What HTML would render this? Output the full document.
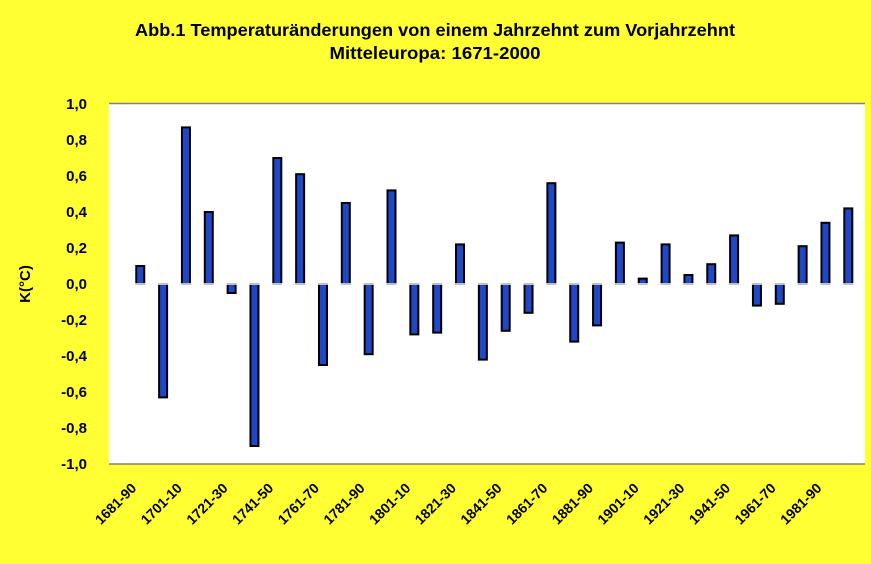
<!DOCTYPE html>
<html><head><meta charset="utf-8"><style>
body{margin:0;background:#ffff33;}
svg{display:block;font-family:"Liberation Sans",Arial,sans-serif;font-weight:bold;}
</style></head><body>
<svg width="871" height="564">
<rect x="0" y="0" width="871" height="564" fill="#ffff33"/>
<text x="435" y="36" text-anchor="middle" font-size="17.5" textLength="600" lengthAdjust="spacingAndGlyphs">Abb.1 Temperaturänderungen von einem Jahrzehnt zum Vorjahrzehnt</text>
<text x="435" y="59" text-anchor="middle" font-size="17.5" textLength="211" lengthAdjust="spacingAndGlyphs">Mitteleuropa:  1671-2000</text>
<rect x="109" y="103" width="756" height="361" fill="#fff"/>
<line x1="109" y1="103.5" x2="865" y2="103.5" stroke="#808080" stroke-width="1.5"/>
<line x1="109" y1="464" x2="865" y2="464" stroke="#808080" stroke-width="1.5"/>
<text transform="translate(30,284) rotate(-90)" text-anchor="middle" font-size="15">K(°C)</text>
<g id="yt"></g><g id="bars"></g><g id="xl"></g>
</svg>
<script>
const categories=["1671-80","1681-90","1691-00","1701-10","1711-20","1721-30","1731-40","1741-50","1751-60","1761-70","1771-80","1781-90","1791-00","1801-10","1811-20","1821-30","1831-40","1841-50","1851-60","1861-70","1871-80","1881-90","1891-00","1901-10","1911-20","1921-30","1931-40","1941-50","1951-60","1961-70","1971-80","1981-90","1991-00"];
const values=[null,0.10,-0.63,0.87,0.40,-0.05,-0.90,0.70,0.61,-0.45,0.45,-0.39,0.52,-0.28,-0.27,0.22,-0.42,-0.26,-0.16,0.56,-0.32,-0.23,0.23,0.03,0.22,0.05,0.11,0.27,-0.12,-0.11,0.21,0.34,0.42];
const yTicks=[1,0.8,0.6,0.4,0.2,0,-0.2,-0.4,-0.6,-0.8,-1];
const NS="http://www.w3.org/2000/svg";
const x0=106,bw=22.84,yT=104,yB=464,ymin=-1,ymax=1;
const y=v=>yB-(v-ymin)/(ymax-ymin)*(yB-yT);
const xc=i=>x0+(i+0.5)*bw;
function mk(t,a,p){const e=document.createElementNS(NS,t);for(const k in a)e.setAttribute(k,a[k]);p.appendChild(e);return e;}
const yt=document.getElementById('yt');
yTicks.forEach(v=>{const t=mk('text',{x:87,y:y(v)+5,'text-anchor':'end','font-size':15},yt);


t.textContent=v.toFixed(1).replace('.',',');});
const bars=document.getElementById('bars');
values.forEach((v,i)=>{if(v===null)return;const top=Math.min(y(v),y(0)),h=Math.abs(y(v)-y(0));
const r=mk('rect',{x:xc(i)-4,y:top,width:8,height:Math.max(h,1),fill:'#1f48c8',stroke:'#000','stroke-width':2},bars);

});
mk('line',{x1:109,y1:y(0),x2:865,y2:y(0),stroke:'#fff','stroke-width':1.5},bars);
const xl=document.getElementById('xl');
categories.forEach((c,i)=>{if(i%2!==1)return;const cx=xc(i)-3,cy=489;
const t=mk('text',{transform:`translate(${cx},${cy}) rotate(-45)`,'text-anchor':'end','font-size':14},xl);


t.textContent=c;});
</script>
</body></html>
